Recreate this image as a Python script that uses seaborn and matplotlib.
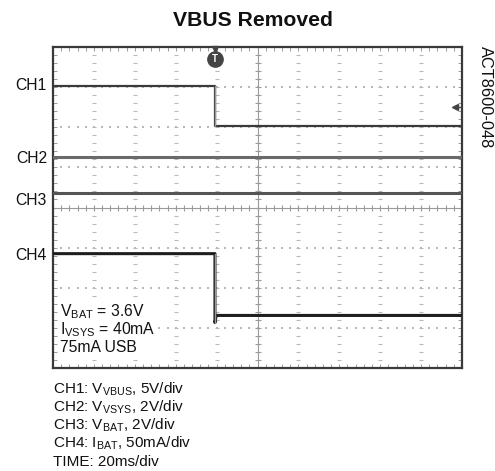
import numpy as np
import pandas as pd
import matplotlib
matplotlib.use("Agg")
import matplotlib.pyplot as plt
import matplotlib.transforms as mtransforms
import seaborn as sns

# Screen: 10 horizontal divisions of 20 ms, 8 vertical divisions
TIME_PER_DIV = 20.0
N_XDIV, N_YDIV = 10, 8

# Trace levels in screen divisions (0 = bottom graticule line), time in ms
ch1_t = [0.0, 79.2, 79.2, 200.0]
ch1_v = [7.03, 7.03, 6.02, 6.02]
ch2_t = [0.0, 200.0]
ch2_v = [5.27, 5.27]
ch3_t = [0.0, 200.0]
ch3_v = [4.37, 4.37]
ch4_t = [0.0, 79.2, 79.2, 79.8, 200.0]
ch4_v = [2.85, 2.85, 1.13, 1.31, 1.31]

trigger_t = 79.2
ground_marker_level = 6.5

channel_names = ["CH1", "CH2", "CH3", "CH4"]
channel_label_levels = [7.03, 5.21, 4.18, 2.81]

conditions = [r"V$_{\mathregular{BAT}}$ = 3.6V",
              r"I$_{\mathregular{VSYS}}$ = 40mA",
              "75mA USB"]
scale_notes = [r"CH1: V$_{\mathregular{VBUS}}$, 5V/div",
               r"CH2: V$_{\mathregular{VSYS}}$, 2V/div",
               r"CH3: V$_{\mathregular{BAT}}$, 2V/div",
               r"CH4: I$_{\mathregular{BAT}}$, 50mA/div",
               "TIME: 20ms/div"]

sns.set_theme(style="white")
plt.rcParams["font.family"] = ["Liberation Sans", "DejaVu Sans"]
plt.rcParams["mathtext.fontset"] = "custom"
plt.rcParams["mathtext.rm"] = "Liberation Sans"
plt.rcParams["mathtext.it"] = "Liberation Sans"

W, H = 495, 471
fig = plt.figure(figsize=(W / 100, H / 100), dpi=100)
ax = fig.add_axes([53 / W, 1 - 368 / H, 409 / W, 321 / H])

xmax = TIME_PER_DIV * N_XDIV
ax.set_xlim(0, xmax)
ax.set_ylim(0, N_YDIV)

# Graticule: dotted division lines
xs_major = np.arange(1, N_XDIV) * TIME_PER_DIV
ys_major = np.arange(1, N_YDIV)
xs_minor = np.arange(0, N_XDIV * 5 + 1) * TIME_PER_DIV / 5
ys_minor = np.arange(0, N_YDIV * 5 + 1) / 5
grid_col = "#b8b8b8"
for x in xs_major:
    if x == xmax / 2:
        continue
    ax.scatter(np.full_like(ys_minor, x), ys_minor, marker="_", s=6,
               color=grid_col, linewidths=0.8, zorder=1)
for y in ys_major:
    if y == N_YDIV / 2:
        continue
    ax.scatter(xs_minor, np.full_like(xs_minor, y), marker="s", s=1.2,
               color=grid_col, linewidths=0, zorder=1)

# Center axes with minor tick marks
ax.axvline(xmax / 2, color="#9a9a9a", lw=0.8, zorder=1)
ax.axhline(N_YDIV / 2, color="#9a9a9a", lw=0.8, zorder=1)
ax.scatter(np.full_like(ys_minor, xmax / 2), ys_minor, marker="_", s=14,
           color="#9a9a9a", linewidths=0.8, zorder=1)
ax.scatter(xs_minor, np.full_like(xs_minor, N_YDIV / 2), marker="|", s=14,
           color="#9a9a9a", linewidths=0.8, zorder=1)

# Inward ticks on the frame
ax.set_xticks(xs_minor)
ax.set_yticks(ys_minor)
ax.tick_params(axis="both", which="both", direction="in", length=3,
               width=0.7, color="#9a9a9a", labelbottom=False, labelleft=False,
               top=True, right=True, bottom=True, left=True)
for side in ax.spines.values():
    side.set_color("#3a3a3a")
    side.set_linewidth(1.6)

# Traces
traces = [
    (ch1_t, ch1_v, "#3a3a3a", 1.6),
    (ch2_t, ch2_v, "#6a6a6a", 2.2),
    (ch3_t, ch3_v, "#555555", 2.2),
    (ch4_t, ch4_v, "#1e1e1e", 2.2),
]
for t, v, col, lw in traces:
    df = pd.DataFrame({"t": t, "v": v})
    sns.lineplot(data=df, x="t", y="v", ax=ax, color=col, lw=lw,
                 estimator=None, sort=False, zorder=3)
# vertical edges drawn thin and light
for t, v in [(ch1_t, ch1_v), (ch4_t, ch4_v)]:
    ax.plot(t[1:3], v[1:3], color="#9a9a9a", lw=1.0, zorder=4)
ax.set_xlabel("")
ax.set_ylabel("")

# Trigger marker
ax.plot([trigger_t], [N_YDIV - 0.05], marker="v", ms=5, color="#444444",
        clip_on=False, zorder=5)
ax.plot([trigger_t], [N_YDIV - 0.3], marker="o", ms=11, color="#444444",
        clip_on=False, zorder=5)
ax.text(trigger_t, N_YDIV - 0.3, "T", color="white", fontsize=7,
        fontweight="bold", ha="center", va="center", zorder=6)

# Ground reference arrow at right edge
ax.plot([xmax - 3.4], [ground_marker_level], marker="<", ms=4,
        color="#444444", zorder=5)
ax.plot([xmax - 3.4, xmax], [ground_marker_level] * 2, color="#444444",
        lw=1.0, zorder=5)

# Channel labels to the left of the screen
lab_tr = mtransforms.blended_transform_factory(fig.transFigure, ax.transData)
for name, lvl in zip(channel_names, channel_label_levels):
    fig.text(47 / W, lvl, name, transform=lab_tr, ha="right", va="center",
             fontsize=11.3, color="#111111")

# Test conditions inside the screen
for i, line in enumerate(conditions):
    ax.text(0.017, (368 - (312 + 18 * i)) / 321, line, transform=ax.transAxes,
            ha="left", va="center", fontsize=11.3, color="#111111", zorder=6,
            bbox=dict(boxstyle="square,pad=0.05", fc="white", ec="none"))

# Title and figure code
fig.text(253 / W, 1 - 21 / H, "VBUS Removed", ha="center", va="center",
         fontsize=15.2, fontweight="bold", color="#111111")
fig.text(485 / W, 1 - 97 / H, "ACT8600-048", rotation=-90, ha="center",
         va="center", fontsize=11.8, color="#111111")

# Scale notes below the screen
for i, line in enumerate(scale_notes):
    fig.text(53 / W, 1 - (389 + 18.2 * i) / H, line, ha="left", va="center",
             fontsize=11, color="#111111")

fig.savefig("out.png", dpi=100)
